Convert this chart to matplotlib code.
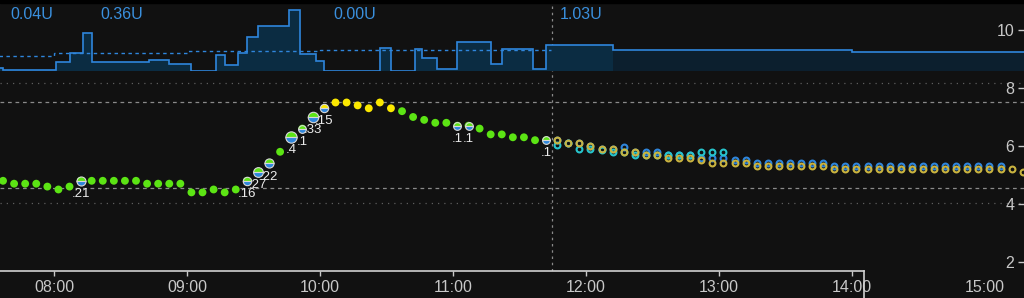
import matplotlib
matplotlib.use('Agg')
import matplotlib.pyplot as plt
from matplotlib.lines import Line2D
from matplotlib.patches import Rectangle
import numpy as np

plt.rcParams['font.family'] = ['Liberation Sans', 'DejaVu Sans']


def hm(s):
    h, m = s.split(':')
    return int(h) + float(m) / 60


# glucose readings (mmol/L), one every 5 minutes
bg_start = '07:37'
bg_values = [4.8, 4.7, 4.7, 4.7, 4.6, 4.5, 4.6, 4.8, 4.8, 4.8,
             4.8, 4.8, 4.8, 4.7, 4.7, 4.7, 4.7, 4.4, 4.4, 4.5,
             4.4, 4.5, 4.8, 5.1, 5.4, 5.8, 6.3, 6.6, 7.0, 7.3,
             7.5, 7.5, 7.4, 7.3, 7.5, 7.3, 7.2, 7.0, 6.9, 6.8,
             6.8, 6.7, 6.7, 6.6, 6.4, 6.4, 6.3, 6.3, 6.2, 6.2]

# boluses
bolus_times = ['08:12', '09:27', '09:32', '09:37', '09:47', '09:52',
               '09:57', '10:02', '11:02', '11:07', '11:42']
bolus_units = [0.21, 0.16, 0.27, 0.22, 0.4, 0.1, 0.33, 0.15, 0.1, 0.1, 0.1]

# predictions, one every 5 minutes
pred_start = '11:47'
pred_gold = [6.2, 6.1, 6.1, 6.0, 5.9, 5.9, 5.8, 5.8, 5.7, 5.7,
             5.6, 5.6, 5.6, 5.5, 5.4, 5.4, 5.4, 5.4, 5.3, 5.3,
             5.3, 5.3, 5.3, 5.3, 5.3, 5.2, 5.2, 5.2, 5.2, 5.2,
             5.2, 5.2, 5.2, 5.2, 5.2, 5.2, 5.2, 5.2, 5.2, 5.2,
             5.2, 5.2, 5.1]
pred_cyan = [6.05, 6.1, 5.9, 5.9, 5.85, 5.8, 5.8, 5.7, 5.7, 5.7,
             5.7, 5.7, 5.7, 5.8, 5.8, 5.8]
pred_blue = [6.2, 6.1, 6.1, 6.0, 5.9, 5.9, 5.95, 5.8, 5.8, 5.8,
             5.7, 5.7, 5.7, 5.6, 5.6, 5.6, 5.5, 5.5, 5.4, 5.4,
             5.4, 5.4, 5.4, 5.4, 5.4, 5.3, 5.3, 5.3, 5.3, 5.3,
             5.3, 5.3, 5.3, 5.3, 5.3, 5.3, 5.3, 5.3, 5.3, 5.3, 5.3]

# basal (U/h)
basal_edges = ['07:35', '07:37', '08:01', '08:07', '08:13', '08:17', '08:43', '08:52',
               '09:02', '09:13', '09:17', '09:23', '09:27', '09:32', '09:46', '09:51',
               '09:58', '10:02', '10:27', '10:32', '10:43', '10:46', '10:53', '11:02',
               '11:17', '11:22', '11:36', '11:42', '12:12', '14:00', '15:18']
basal_rates = [0.12, 0.03, 0.45, 0.9, 1.9, 0.45, 0.55, 0.35, 0.0, 0.8,
               0.3, 0.9, 1.7, 2.25, 3.05, 0.85, 0.5, 0.0, 1.15, 0.0,
               1.1, 0.65, 0.1, 1.45, 0.35, 1.1, 0.1, 1.27, 1.02, 0.935]
sched_edges = ['07:35', '08:00', '09:00', '10:00', '11:44']
sched_rates = [0.735, 0.87, 0.985, 1.02]
future_from = '12:12'

insulin_labels = ['0.04U', '0.36U', '0.00U', '1.03U']
insulin_label_times = ['07:40.5', '08:20.8', '10:05.9', '11:48.3']

now_time = '11:44.5'
target_low, target_high = 4.56, 7.53
low_line, high_line = 4.02, 8.17
high_color_at = 7.25
hours = [8, 9, 10, 11, 12, 13, 14, 15]

# colours
BG = '#111111'
GREEN = '#5ce414'
YELLOW = '#fbe800'
BLUE = '#2f86dc'
CYAN = '#27c4cc'
GOLD = '#c9b340'

fig = plt.figure(figsize=(10.24, 2.98), dpi=100, facecolor=BG)
ax = fig.add_axes([0, 26.7 / 298, 1, 268.0 / 298])
ax.set_facecolor(BG)
x0, x1 = 8 - 54 / 133, 8 + 970 / 133
ax.set_xlim(x0, x1)
ax.set_ylim(1.679, 10.92)

# reference lines
for y in (target_low, target_high):
    ax.axhline(y, color='#8a8a8a', lw=0.9, ls=(0, (3, 3)), zorder=1)
for y in (low_line, high_line):
    ax.axhline(y, color='#5e5e5e', lw=0.9, ls=(0, (1, 4)), zorder=1)
ax.axvline(hm(now_time), color='#8a8a8a', lw=0.9, ls=(0, (2, 3)), zorder=1)

# glucose
bg_t = hm(bg_start) + np.arange(len(bg_values)) * 5 / 60
bg_v = np.array(bg_values)
cols = [YELLOW if v > high_color_at else GREEN for v in bg_v]
ax.scatter(bg_t, bg_v, s=32, c=cols, linewidths=0, zorder=3)

# predictions
p0 = hm(pred_start)
for vals, col, z in ((pred_blue, BLUE, 4), (pred_cyan, CYAN, 5), (pred_gold, GOLD, 6)):
    t = p0 + np.arange(len(vals)) * 5 / 60
    ax.plot(t, vals, ls='none', marker='o', ms=4.2, mew=1.5, mfc='none', mec=col, zorder=z)

# boluses
for bt, u in zip(bolus_times, bolus_units):
    t = hm(bt)
    i = int(np.argmin(np.abs(bg_t - t)))
    v = bg_v[i]
    top = YELLOW if v > high_color_at else GREEN
    d = (6.5 + 12 * u) * 0.72
    ax.plot([t], [v], marker='o', ms=d, fillstyle='top', mfc=top, mfcalt=BLUE,
            mec='#d8d8d8', mew=0.8, ls='none', zorder=7)
    lbl = ('%.2f' % u).lstrip('0').rstrip('0')
    ax.annotate(lbl, (t, v), xytext=(0, -9.5), textcoords='offset points',
                ha='center', va='center', fontsize=9.5, color='#ececec', zorder=8)

# axes styling
for s in ('top', 'left', 'right'):
    ax.spines[s].set_visible(False)
ax.spines['bottom'].set_color('#d0d0d0')
ax.spines['bottom'].set_linewidth(1.2)
ax.spines['bottom'].set_bounds(x0, 8 + 810 / 133)
ax.set_xticks(hours)
ax.set_xticklabels(['%02d:00' % h for h in hours])
ax.tick_params(axis='x', colors='#c8c8c8', length=3.6, width=1, labelsize=11.5, pad=3)
ax.xaxis.get_major_ticks()[-1].tick1line.set_visible(False)

ax.set_yticks([2, 4, 6, 8, 10])
ax.yaxis.tick_right()
ax.tick_params(axis='y', direction='in', colors='#c8c8c8', length=4.3, width=1,
               labelsize=11.5, pad=-7)
for lbl in ax.get_yticklabels():
    lbl.set_horizontalalignment('right')

fig.add_artist(Line2D([864 / 1024, 864 / 1024], [0, 26.7 / 298], color='#d0d0d0', lw=1.2))
fig.add_artist(Rectangle((0, 1 - 3.3 / 298), 1, 3.3 / 298, transform=fig.transFigure,
                         color='black', zorder=10))

# basal panel
bx = fig.add_axes([0, (298 - 70.7) / 298, 1, 67.4 / 298])
bx.patch.set_alpha(0)
bx.set_xlim(x0, x1)
bx.set_ylim(0, 67.4 / 20)
bx.axis('off')
edges = np.array([hm(e) for e in basal_edges])
rates = np.array(basal_rates)
k = basal_edges.index(future_from)
bx.stairs(rates[:k], edges[:k + 1], fill=True, color='#0b2c42', lw=0)
bx.stairs(rates[k:], edges[k:], fill=True, color='#0c1f2e', lw=0)
bx.stairs(rates, edges, baseline=None, color=BLUE, lw=1.2)
bx.stairs(sched_rates, [hm(e) for e in sched_edges], baseline=None, color=BLUE,
          lw=1.0, ls=(0, (2.5, 2.5)))
for txt, lt in zip(insulin_labels, insulin_label_times):
    bx.text(hm(lt), 0.84, txt, transform=bx.get_xaxis_transform(), ha='left', va='center',
            fontsize=11.5, color='#3a90de')

fig.savefig('out.png', dpi=100, facecolor=BG)
